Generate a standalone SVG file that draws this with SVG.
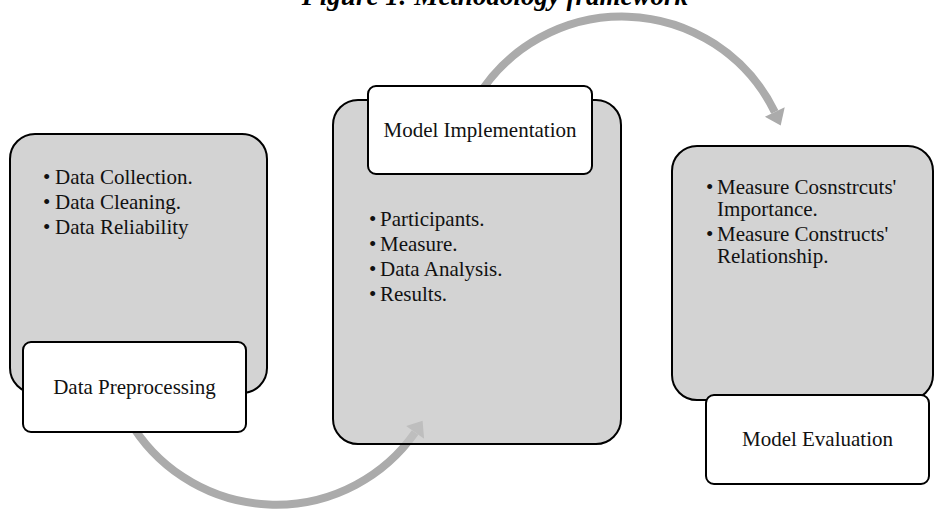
<svg xmlns="http://www.w3.org/2000/svg" width="934" height="510" viewBox="0 0 934 510">
  <style>
    .panel { fill: #c4c4c4; fill-opacity: 0.75; stroke: #000; stroke-width: 2; }
    .label { fill: #fff; stroke: #000; stroke-width: 2; }
    .txt { font-family: "Liberation Serif", "Times New Roman", serif; font-size: 21px; fill: #111; }
    .mid { text-anchor: middle; }
    .title { font-family: "Liberation Serif", "Times New Roman", serif; font-size: 27px; font-weight: bold; font-style: italic; fill: #000; text-anchor: middle; }
    .flow { fill: none; stroke: #ababab; stroke-width: 8; }
    .head { fill: #ababab; stroke: none; }
  </style>

  <rect width="934" height="510" fill="#fff"/>

  <text class="title" x="495" y="4.5">Figure 1: Methodology framework</text>

  <!-- curved process arrows -->
  <g id="connectors">
    <path class="flow" d="M 128.8 419.7 A 170 170 0 0 0 415.1 432.5"/>
    <polygon class="head" points="406.1,426.1 424.1,438.8 422.6,420.7"/>
    <path class="flow" d="M 474.8 101.5 A 170 170 0 0 1 774.8 112.0"/>
    <polygon class="head" points="764.9,116.8 784.7,107.2 780.7,125.6"/>
  </g>

  <g id="data-preprocessing">
    <rect class="panel" x="10" y="134" width="257" height="259" rx="25"/>
    <text class="txt" x="43" y="184">•</text>
    <text class="txt" x="55" y="184">Data Collection.</text>
    <text class="txt" x="43" y="209">•</text>
    <text class="txt" x="55" y="209">Data Cleaning.</text>
    <text class="txt" x="43" y="234">•</text>
    <text class="txt" x="55" y="234">Data Reliability</text>
    <rect class="label" x="23" y="342" width="223" height="90" rx="8"/>
    <text class="txt mid" x="134.5" y="394">Data Preprocessing</text>
  </g>

  <g id="model-implementation">
    <rect class="panel" x="333" y="100" width="288" height="344" rx="25"/>
    <text class="txt" x="369" y="226">•</text>
    <text class="txt" x="380" y="226">Participants.</text>
    <text class="txt" x="369" y="251">•</text>
    <text class="txt" x="380" y="251">Measure.</text>
    <text class="txt" x="369" y="276">•</text>
    <text class="txt" x="380" y="276">Data Analysis.</text>
    <text class="txt" x="369" y="301">•</text>
    <text class="txt" x="380" y="301">Results.</text>
    <rect class="label" x="368" y="86" width="224" height="88" rx="8"/>
    <text class="txt mid" x="480" y="137">Model Implementation</text>
  </g>

  <g id="model-evaluation">
    <rect class="panel" x="672" y="146" width="261" height="254" rx="25"/>
    <text class="txt" x="706" y="194">•</text>
    <text class="txt" x="717" y="194">Measure Cosnstrcuts'</text>
    <text class="txt" x="717" y="216">Importance.</text>
    <text class="txt" x="706" y="241">•</text>
    <text class="txt" x="717" y="241">Measure Constructs'</text>
    <text class="txt" x="717" y="263">Relationship.</text>
    <rect class="label" x="706" y="395" width="223" height="89" rx="8"/>
    <text class="txt mid" x="817.5" y="446">Model Evaluation</text>
  </g>
</svg>
